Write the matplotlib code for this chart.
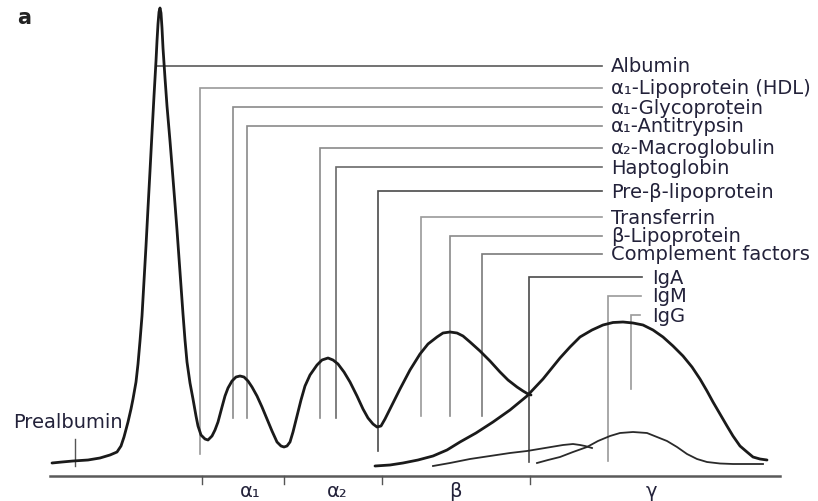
import matplotlib
matplotlib.use("Agg")
import matplotlib.pyplot as plt

# ---- data: densitometric trace (mobility, intensity) ----
main_x = [52, 62, 73, 88, 100, 110, 117, 121, 124, 128, 131, 133, 136, 138, 140, 142, 144, 146, 148, 150,
          152, 154, 156, 157, 158, 159, 160, 161, 162, 163, 165, 167, 170, 172, 175, 177, 180, 183, 185, 187,
          190, 193, 196, 198, 201, 205, 208, 212, 215, 218, 222, 225, 228, 232, 236, 240, 244, 248, 252, 257,
          262, 267, 272, 277, 281, 284, 287, 290, 293, 297, 301, 305, 310, 317, 322, 328, 333, 338, 344, 350,
          357, 363, 368, 373, 377, 381, 385, 392, 400, 410, 420, 428, 437, 443, 450, 457, 463, 470, 480, 490,
          500, 508, 517, 523, 528, 531]
main_y = [13, 14, 15, 16, 18, 21, 24, 30, 39, 54, 67, 77, 94, 112, 135, 160, 195, 230, 268, 305,
          343, 380, 415, 435, 452, 464, 468, 463, 448, 428, 398, 370, 335, 310, 272, 246, 204, 162, 136, 114,
          93, 77, 60, 50, 41, 37, 36, 40, 46, 54, 69, 80, 88, 95, 99, 100, 99, 95, 89, 80,
          69, 57, 45, 34, 30, 29, 30, 34, 44, 60, 76, 90, 101, 111, 116, 118, 116, 112, 104, 94,
          80, 67, 58, 52, 49, 50, 57, 71, 87, 106, 122, 132, 139, 143, 144, 143, 140, 134, 125, 115,
          104, 96, 89, 85, 82, 81]

gamma_x = [375, 390, 403, 418, 433, 447, 460, 476, 493, 510, 527, 543, 560, 570, 580, 592, 603, 613, 623,
           633, 643, 653, 663, 673, 683, 692, 700, 707, 713, 720, 727, 733, 740, 747, 753, 760, 767]
gamma_y = [10, 11, 13, 16, 20, 26, 34, 43, 54, 66, 80, 97, 118, 129, 139, 146, 151, 153.5, 154,
           153, 151, 146, 139, 130, 120, 109, 97, 85, 74, 62, 50, 40, 30, 24, 19, 17, 16]

iga_x = [433, 450, 470, 490, 510, 527, 545, 563, 573, 580, 585, 592]
iga_y = [10, 13, 17, 20, 23, 25, 28, 31, 32, 31, 30, 28]

igm_x = [537, 548, 560, 573, 587, 598, 610, 620, 633, 647, 657, 667, 677, 687, 697, 707, 720, 733, 763]
igm_y = [13, 16, 19, 24, 29, 35, 40, 43, 44, 43, 39, 35, 29, 22, 17, 14, 12.5, 12, 12]

# ---- protein labels ----
proteins = ["Albumin", "α₁-Lipoprotein (HDL)", "α₁-Glycoprotein", "α₁-Antitrypsin",
            "α₂-Macroglobulin", "Haptoglobin", "Pre-β-lipoprotein", "Transferrin",
            "β-Lipoprotein", "Complement factors", "IgA", "IgM", "IgG"]
protein_pos = [157, 200, 233, 247, 320, 336, 378, 421, 450, 482, 529, 608, 631]
protein_row = [410, 388, 369, 350, 328, 309, 285, 259, 240, 222, 199, 180, 161]
protein_bottom = [410, 22, 58, 58, 58, 58, 25, 60, 60, 60, 14, 15, 87]
label_x = [611] * 10 + [652] * 3
line_end = [602] * 10 + [642, 641, 640]
line_col = ["#5a5a5a", "#9a9a9a", "#8a8a8a", "#8a8a8a", "#8a8a8a", "#6a6a6a", "#4a4a4a",
            "#9a9a9a", "#8a8a8a", "#7a7a7a", "#4a4a4a", "#9a9a9a", "#9a9a9a"]

fractions = ["α₁", "α₂", "β", "γ"]
fraction_pos = [250, 337, 455, 651]
fraction_bounds = [202, 284, 382, 530]

prealb_pos = 75

TXT = "#23223a"

fig = plt.figure(figsize=(8.18, 5.02), dpi=100)
ax = fig.add_axes([0, 0, 1, 1])
ax.set_xlim(0, 818)
ax.set_ylim(-25, 477)
ax.axis("off")

# leader lines
for name, xp, row, bot, lx, le, c in zip(proteins, protein_pos, protein_row, protein_bottom,
                                          label_x, line_end, line_col):
    ax.plot([xp, xp, le], [bot, row, row], color=c, lw=1.2, solid_joinstyle="miter", zorder=1)
    ax.text(lx, row, name, fontsize=14, color=TXT, va="center", ha="left")

# curves
ax.plot(main_x, main_y, color="#1a1a1a", lw=2.0, zorder=3, solid_capstyle="round",
        solid_joinstyle="round")
ax.plot(gamma_x, gamma_y, color="#1a1a1a", lw=2.0, zorder=3, solid_capstyle="round",
        solid_joinstyle="round")
ax.plot(iga_x, iga_y, color="#2a2a2a", lw=1.3, zorder=3)
ax.plot(igm_x, igm_y, color="#2a2a2a", lw=1.3, zorder=3)

# prealbumin marker
ax.plot([prealb_pos, prealb_pos], [10, 37], color="#555555", lw=1.0, zorder=2)
ax.text(13, 54, "Prealbumin", fontsize=14, color=TXT, va="center", ha="left")

# baseline and fraction boundaries
ax.plot([50, 780], [0, 0], color="#5a5a5a", lw=1.8, zorder=2)
for b in fraction_bounds:
    ax.plot([b, b], [0, -8], color="#555555", lw=1.0)
for f, p in zip(fractions, fraction_pos):
    ax.text(p, -15, f, fontsize=14, color=TXT, ha="center", va="center")

# panel letter
ax.text(17, 459, "a", fontsize=15, fontweight="bold", color="#222222", ha="left", va="center")

fig.savefig("out.png", dpi=100)
